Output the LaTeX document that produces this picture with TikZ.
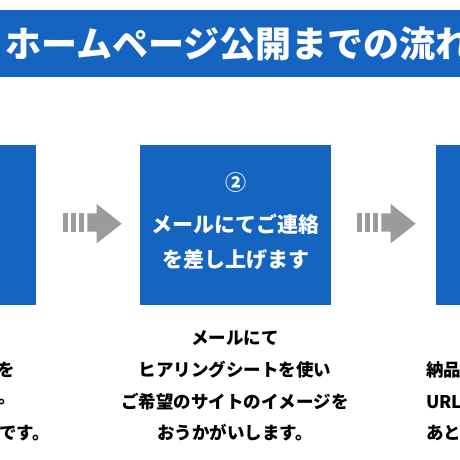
\documentclass[tikz,border=0pt]{standalone}
\usepackage{fontspec}
\newfontfamily\jpfont{Noto Sans CJK JP}
\usepackage{xcolor}
\usepackage{tikz}

\definecolor{flowblue}{RGB}{21,101,192}
\definecolor{flowgray}{RGB}{155,155,155}

\tikzset{
  stepbox/.style={fill=flowblue, minimum width=191pt, minimum height=160pt, inner sep=0pt},
  steptext/.style={text=white, inner sep=0pt, font=\jpfont\bfseries\fontsize{21}{21}\selectfont},
  notetext/.style={text=black, inner sep=0pt, font=\jpfont\bfseries\fontsize{17.5}{17.5}\selectfont},
}

\begin{document}
\begin{tikzpicture}[x=1pt,y=-1pt]
\useasboundingbox (0,0) rectangle (460,460);
\clip (0,0) rectangle (460,460);
% title bar
\fill [flowblue] (-5,10) rectangle (465,77);
\node [anchor=west, text=white, inner sep=0pt, font=\jpfont\bfseries\fontsize{36}{36}\selectfont] (title) at (5,44) {ホームページ公開までの流れ};
% step boxes
\node [stepbox] (step1) at (-59.5,225) {};
\node [stepbox] (step2) at (235.5,225) {};
\node [stepbox] (step3) at (531.5,225) {};
\node [steptext] (step2num) at (235.5,183) {②};
\node [steptext] (step2a) at (235.5,224) {メールにてご連絡};
\node [steptext] (step2b) at (235.5,260) {を差し上げます};
% arrow 1
\fill [flowgray] (63.3,213.3) rectangle (68.3,231.7);
\fill [flowgray] (71,213.3) rectangle (76,231.7);
\fill [flowgray] (78.7,213.3) rectangle (83.7,231.7);
\fill [flowgray] (87.3,213.3) -- (96.7,213.3) -- (96.7,204) -- (121.7,223.7) -- (96.7,243.3) -- (96.7,231.7) -- (87.3,231.7) -- cycle;
% arrow 2
\fill [flowgray] (357.3,213.3) rectangle (362.3,231.7);
\fill [flowgray] (365,213.3) rectangle (370,231.7);
\fill [flowgray] (372.7,213.3) rectangle (377.7,231.7);
\fill [flowgray] (381.3,213.3) -- (390.7,213.3) -- (390.7,204) -- (415.7,223.7) -- (390.7,243.3) -- (390.7,231.7) -- (381.3,231.7) -- cycle;
% notes
\node [notetext, anchor=east] (note1a) at (15,370) {を};
\node [notetext, anchor=east] (note1b) at (16,402) {。};
\node [notetext, anchor=east] (note1c) at (50,433) {です。};
\node [notetext] (note2a) at (235,338) {メールにて};
\node [notetext] (note2b) at (235,370) {ヒアリングシートを使い};
\node [notetext] (note2c) at (235,402) {ご希望のサイトのイメージを};
\node [notetext] (note2d) at (235,433) {おうかがいします。};
\node [notetext, anchor=west] (note3a) at (426,370) {納品};
\node [notetext, anchor=west] (note3b) at (426,402) {URL};
\node [notetext, anchor=west] (note3c) at (426,433) {あと};
\end{tikzpicture}
\end{document}
